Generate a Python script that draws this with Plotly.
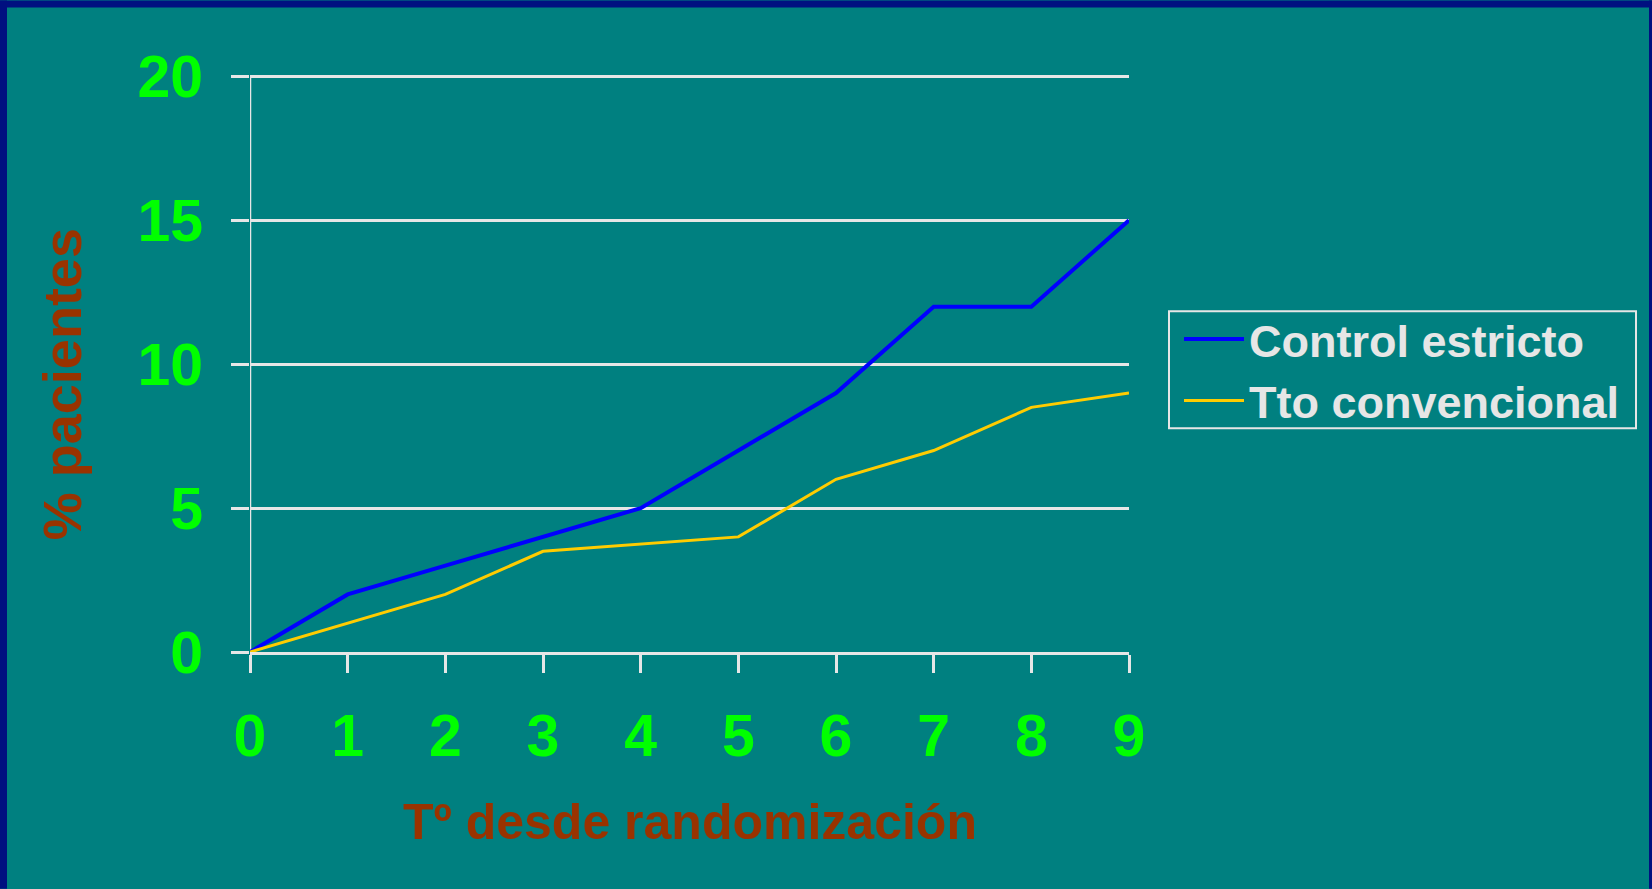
import plotly.graph_objects as go

# ---- data ----
years = [0, 1, 2, 3, 4, 5, 6, 7, 8, 9]
control_estricto = [0, 2, 3, 4, 5, 7, 9, 12, 12, 15]
tto_convencional = [0, 1, 2, 3.5, 3.75, 4, 6, 7, 8.5, 9]
series_names = ["Control estricto", "Tto convencional"]
y_ticks = [0, 5, 10, 15, 20]
x_title = "Tº desde randomización"
y_title = "% pacientes"

# ---- layout geometry (pixels) ----
W, H = 1652, 889
Y_MAX = 20.05
L, R, B = 250, 1129, 652
PH = 576 * Y_MAX / 20          # so that the value 20 sits at pixel 76
T = B - PH
PW = R - L


def px(x):
    return (x - L) / PW


def py(y):
    return (B - y) / PH


TEAL = "#008080"
BORDER = "#001080"
LIGHT = "#e6e6e6"
GREEN = "#00ff00"
BROWN = "#993300"
FONT = "Liberation Sans, Arial, sans-serif"

fig = go.Figure()
fig.add_trace(go.Scatter(x=years, y=control_estricto, mode="lines", name=series_names[0],
                         line=dict(color="#0000ff", width=4), cliponaxis=False))
fig.add_trace(go.Scatter(x=years, y=tto_convencional, mode="lines", name=series_names[1],
                         line=dict(color="#ffcc00", width=3), cliponaxis=False))

fig.update_layout(
    width=W, height=H,
    margin=dict(l=L, r=W - R, t=T, b=H - B, pad=0),
    paper_bgcolor=TEAL, plot_bgcolor=TEAL,
    showlegend=True,
    legend=dict(
        x=px(1179), y=py(303), xanchor="left", yanchor="top",
        bgcolor="rgba(0,0,0,0)", borderwidth=0,
        font=dict(family=FONT, size=45, color=LIGHT, weight="bold"),
        itemwidth=60, tracegroupgap=0,
    ),
    xaxis=dict(
        range=[0, 9], tickmode="array", tickvals=years, ticktext=[str(v) for v in years],
        showgrid=False, zeroline=False, showline=True, linecolor=LIGHT, linewidth=2.5,
        ticks="outside", ticklen=18, tickwidth=2.5, tickcolor=LIGHT,
        tickfont=dict(family=FONT, size=59, color=GREEN, weight="bold"),
        ticklabelstandoff=12, fixedrange=True,
    ),
    yaxis=dict(
        range=[0, Y_MAX], tickmode="array", tickvals=y_ticks, ticktext=[str(v) for v in y_ticks],
        showgrid=True, gridcolor=LIGHT, gridwidth=2.5, zeroline=False,
        showline=False,
        ticks="outside", ticklen=18, tickwidth=2.5, tickcolor=LIGHT,
        tickfont=dict(family=FONT, size=59, color=GREEN, weight="bold"),
        ticklabelstandoff=16, fixedrange=True,
    ),
    annotations=[
        dict(text=x_title, xref="paper", yref="paper", x=px(690), y=py(822),
             xanchor="center", yanchor="middle", showarrow=False,
             font=dict(family=FONT, size=50, color=BROWN, weight="bold")),
        dict(text=y_title, xref="paper", yref="paper", x=px(62), y=py(384),
             xanchor="center", yanchor="middle", showarrow=False, textangle=-90,
             font=dict(family=FONT, size=54, color=BROWN, weight="bold")),
    ],
    shapes=[
        # y-axis line from the 0 gridline up to the 20 gridline
        dict(type="line", xref="x", yref="y", x0=0, x1=0, y0=0, y1=y_ticks[-1],
             line=dict(color=LIGHT, width=2.5), layer="below"),
        dict(type="rect", xref="paper", yref="paper", x0=px(0), x1=px(7), y0=py(H), y1=py(0),
             fillcolor=BORDER, line=dict(width=0), layer="above"),
        dict(type="rect", xref="paper", yref="paper", x0=px(0), x1=px(W), y0=py(7), y1=py(0),
             fillcolor=BORDER, line=dict(width=0), layer="above"),
        dict(type="rect", xref="paper", yref="paper", x0=px(1649), x1=px(W), y0=py(H), y1=py(0),
             fillcolor=BORDER, line=dict(width=0), layer="above"),
        # legend frame
        dict(type="rect", xref="paper", yref="paper", x0=px(1169), x1=px(1636), y0=py(428), y1=py(311),
             fillcolor="rgba(0,0,0,0)", line=dict(color=LIGHT, width=2), layer="above"),
    ],
)

fig.write_html("out.html", config={"displayModeBar": False},
               post_script="document.body.style.margin='0';document.body.style.padding='0';")
